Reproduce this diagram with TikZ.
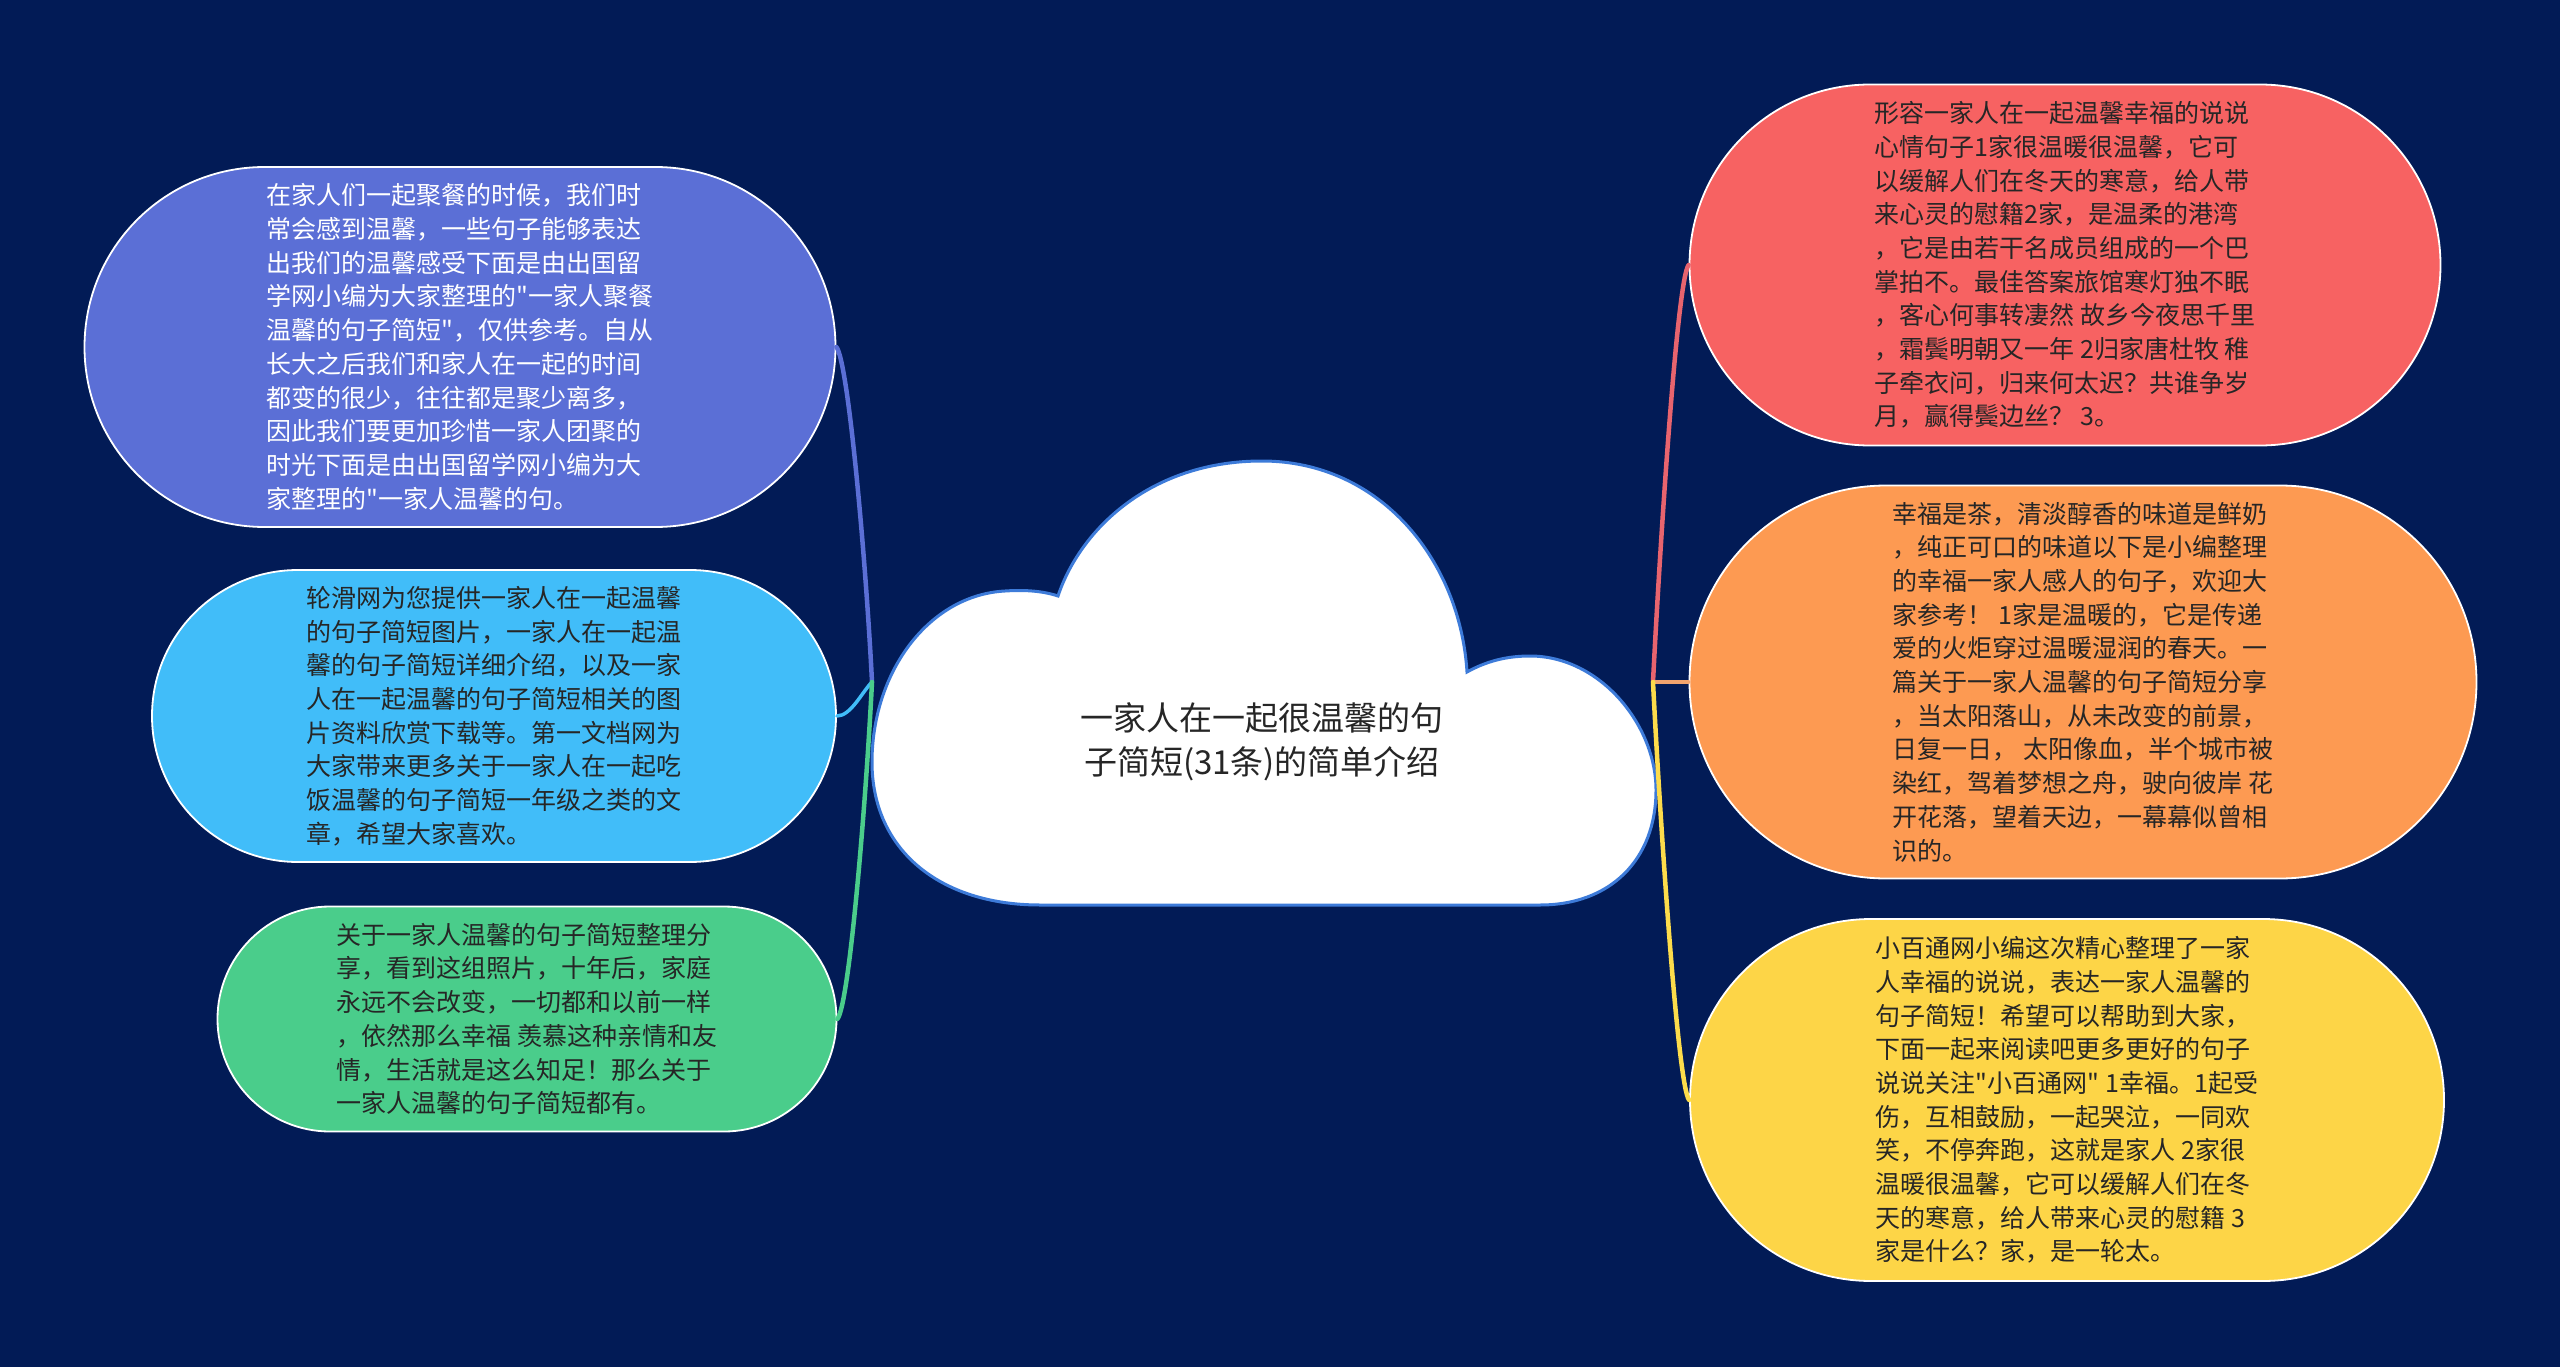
\documentclass[tikz,border=0pt]{standalone}
\usepackage{fontspec}
\newfontfamily\cjk{Noto Sans CJK SC}
\usetikzlibrary{shapes.misc}
\definecolor{bg}{HTML}{021B56}
\definecolor{cblue}{HTML}{5B6FD6}
\definecolor{clight}{HTML}{41BDF9}
\definecolor{cgreen}{HTML}{4ACD8B}
\definecolor{cred}{HTML}{F76262}
\definecolor{corange}{HTML}{FD9A52}
\definecolor{cyellow}{HTML}{FDD547}
\definecolor{lred}{HTML}{E8646E}
\definecolor{lorange}{HTML}{F2A46E}
\definecolor{lyellow}{HTML}{FDDC4B}
\definecolor{cloudline}{HTML}{3D7BD9}
\definecolor{darktext}{HTML}{262626}
\begin{document}
\begin{tikzpicture}[x=1pt,y=-1pt,
  leaf/.style={rounded rectangle, draw=white, line width=1.8pt, inner sep=0pt,
    align=left, font=\cjk\fontsize{25}{33.7}\selectfont, text=darktext},
  link/.style={line width=4.5pt, line cap=round},
  thinlink/.style={line width=3.5pt, line cap=round},
]
\fill[bg] (0,0) rectangle (2560,1367);
\useasboundingbox (0,0) rectangle (2560,1367);

% cloud
\filldraw[fill=white, draw=cloudline, line width=3pt]
  (1040,905) -- (1540,905)
  .. controls (1610,905) and (1656,860) .. (1656,790)
  .. controls (1656,725) and (1600,656) .. (1530,656)
  .. controls (1505,656) and (1485,662) .. (1467,672)
  .. controls (1460,560) and (1380,461) .. (1262,461)
  .. controls (1150,461) and (1080,530) .. (1058,596)
  .. controls (1040,590) and (1020,590) .. (1005,591)
  .. controls (930,595) and (873,670) .. (872,760)
  .. controls (871,850) and (940,905) .. (1040,905) -- cycle;
\node[align=center, font=\cjk\fontsize{33}{44}\selectfont, text=darktext, inner sep=0pt]
  (center) at (1262,742) {一家人在一起很温馨的句\\子简短(31条)的简单介绍};

\coordinate (J) at (872,682);
\coordinate (K) at (1653,682);

% left nodes
\node[leaf, fill=cblue, text=white, minimum width=751pt, minimum height=360pt] (l1) at (460,347)
{在家人们一起聚餐的时候，我们时\\
常会感到温馨，一些句子能够表达\\
出我们的温馨感受下面是由出国留\\
学网小编为大家整理的"一家人聚餐\\
温馨的句子简短"，仅供参考。自从\\
长大之后我们和家人在一起的时间\\
都变的很少，往往都是聚少离多，\\
因此我们要更加珍惜一家人团聚的\\
时光下面是由出国留学网小编为大\\
家整理的"一家人温馨的句。};

\node[leaf, fill=clight, minimum width=684pt, minimum height=292pt] (l2) at (494,716)
{轮滑网为您提供一家人在一起温馨\\
的句子简短图片，一家人在一起温\\
馨的句子简短详细介绍，以及一家\\
人在一起温馨的句子简短相关的图\\
片资料欣赏下载等。第一文档网为\\
大家带来更多关于一家人在一起吃\\
饭温馨的句子简短一年级之类的文\\
章，希望大家喜欢。};

\node[leaf, fill=cgreen, minimum width=619pt, minimum height=225pt] (l3) at (527,1019)
{关于一家人温馨的句子简短整理分\\
享，看到这组照片，十年后，家庭\\
永远不会改变，一切都和以前一样\\
，依然那么幸福 羡慕这种亲情和友\\
情，生活就是这么知足！那么关于\\
一家人温馨的句子简短都有。};

% right nodes
\node[leaf, fill=cred, minimum width=751pt, minimum height=361pt] (r1) at (2065,265)
{形容一家人在一起温馨幸福的说说\\
心情句子1家很温暖很温馨，它可\\
以缓解人们在冬天的寒意，给人带\\
来心灵的慰籍2家，是温柔的港湾\\
，它是由若干名成员组成的一个巴\\
掌拍不。最佳答案旅馆寒灯独不眠\\
，客心何事转凄然 故乡今夜思千里\\
，霜鬓明朝又一年 2归家唐杜牧 稚\\
子牵衣问，归来何太迟？共谁争岁\\
月，赢得鬓边丝？ 3。};

\node[leaf, fill=corange, minimum width=787pt, minimum height=393pt] (r2) at (2083,682)
{幸福是茶，清淡醇香的味道是鲜奶\\
，纯正可口的味道以下是小编整理\\
的幸福一家人感人的句子，欢迎大\\
家参考！ 1家是温暖的，它是传递\\
爱的火炬穿过温暖湿润的春天。一\\
篇关于一家人温馨的句子简短分享\\
，当太阳落山，从未改变的前景，\\
日复一日， 太阳像血，半个城市被\\
染红，驾着梦想之舟，驶向彼岸 花\\
开花落，望着天边，一幕幕似曾相\\
识的。};

\node[leaf, fill=cyellow, minimum width=754pt, minimum height=362pt] (r3) at (2067,1100)
{小百通网小编这次精心整理了一家\\
人幸福的说说，表达一家人温馨的\\
句子简短！希望可以帮助到大家，\\
下面一起来阅读吧更多更好的句子\\
说说关注"小百通网" 1幸福。1起受\\
伤，互相鼓励，一起哭泣，一同欢\\
笑，不停奔跑，这就是家人 2家很\\
温暖很温馨，它可以缓解人们在冬\\
天的寒意，给人带来心灵的慰籍 3\\
家是什么？家，是一轮太。};

% connectors
\draw[link, cblue] (J) .. controls +(-6,-120) and +(12,15) .. (l1.east);
\draw[thinlink, clight] (J) .. controls +(-10,10) and +(14,0) .. (l2.east);
\draw[link, cgreen] (J) .. controls +(-6,120) and +(12,-15) .. (l3.east);
\draw[link, lred] (K) .. controls +(6,-120) and +(-12,15) .. (r1.west);
\draw[thinlink, lorange] (K) -- (r2.west);
\draw[link, lyellow] (K) .. controls +(6,120) and +(-12,-15) .. (r3.west);
\end{tikzpicture}
\end{document}
